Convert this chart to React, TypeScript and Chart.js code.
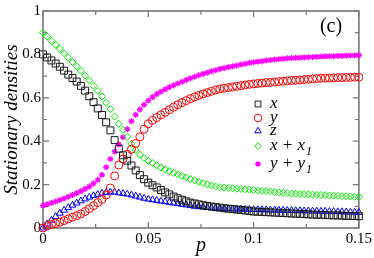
import React, { useEffect, useRef } from 'react';
import { Chart, registerables } from 'chart.js';

Chart.register(...registerables);

// sampling positions p
const P = [
  0, 0.002, 0.004, 0.006, 0.008, 0.01, 0.012, 0.014, 0.016, 0.018,
  0.02, 0.022, 0.024, 0.026, 0.028, 0.03, 0.032, 0.034, 0.036, 0.038,
  0.04, 0.042, 0.044, 0.046, 0.048, 0.05, 0.052, 0.054, 0.056, 0.058,
  0.06, 0.062, 0.064, 0.066, 0.068, 0.07, 0.072, 0.074, 0.076, 0.078,
  0.08, 0.082, 0.084, 0.086, 0.088, 0.09, 0.092, 0.094, 0.096, 0.098,
  0.1, 0.102, 0.104, 0.106, 0.108, 0.11, 0.112, 0.114, 0.116, 0.118,
  0.12, 0.122, 0.124, 0.126, 0.128, 0.13, 0.132, 0.134, 0.136, 0.138,
  0.14, 0.142, 0.144, 0.146, 0.148, 0.15,
];

const X_VALUES = [
  0.800, 0.786, 0.772, 0.758, 0.743, 0.725, 0.707, 0.691, 0.675, 0.655,
  0.633, 0.607, 0.580, 0.551, 0.521, 0.487, 0.450, 0.405, 0.365, 0.335,
  0.310, 0.288, 0.265, 0.244, 0.225, 0.209, 0.197, 0.187, 0.175, 0.164,
  0.155, 0.145, 0.137, 0.130, 0.123, 0.117, 0.113, 0.109, 0.105, 0.102,
  0.099, 0.096, 0.094, 0.091, 0.089, 0.087, 0.085, 0.083, 0.081, 0.078,
  0.076, 0.075, 0.074, 0.073, 0.072, 0.071, 0.070, 0.069, 0.068, 0.067,
  0.066, 0.065, 0.064, 0.063, 0.062, 0.061, 0.061, 0.060, 0.059, 0.058,
  0.058, 0.057, 0.056, 0.056, 0.055, 0.054,
];

const Y_VALUES = [
  0.000, 0.010, 0.016, 0.021, 0.027, 0.034, 0.042, 0.050, 0.057, 0.065,
  0.076, 0.089, 0.103, 0.117, 0.132, 0.152, 0.184, 0.240, 0.290, 0.318,
  0.340, 0.363, 0.390, 0.420, 0.455, 0.480, 0.496, 0.509, 0.521, 0.533,
  0.545, 0.557, 0.568, 0.578, 0.587, 0.596, 0.604, 0.611, 0.618, 0.624,
  0.630, 0.636, 0.641, 0.644, 0.647, 0.650, 0.653, 0.656, 0.659, 0.662,
  0.664, 0.666, 0.668, 0.670, 0.671, 0.673, 0.675, 0.676, 0.678, 0.680,
  0.681, 0.682, 0.684, 0.685, 0.687, 0.689, 0.690, 0.691, 0.691, 0.692,
  0.693, 0.693, 0.694, 0.694, 0.695, 0.695,
];

const Z_VALUES = [
  0.000, 0.018, 0.036, 0.053, 0.068, 0.082, 0.094, 0.105, 0.115, 0.125,
  0.134, 0.142, 0.149, 0.155, 0.160, 0.163, 0.166, 0.165, 0.162, 0.159,
  0.156, 0.152, 0.147, 0.142, 0.137, 0.133, 0.130, 0.127, 0.124, 0.121,
  0.118, 0.115, 0.112, 0.109, 0.106, 0.103, 0.100, 0.098, 0.096, 0.094,
  0.093, 0.092, 0.091, 0.090, 0.089, 0.088, 0.087, 0.087, 0.086, 0.086,
  0.085, 0.085, 0.084, 0.084, 0.083, 0.083, 0.082, 0.082, 0.081, 0.081,
  0.080, 0.080, 0.079, 0.079, 0.078, 0.078, 0.077, 0.077, 0.076, 0.076,
  0.075, 0.075, 0.074, 0.073, 0.073, 0.072,
];

const XX1_VALUES = [
  0.900, 0.882, 0.863, 0.844, 0.825, 0.805, 0.785, 0.765, 0.745, 0.724,
  0.702, 0.680, 0.656, 0.632, 0.606, 0.578, 0.548, 0.514, 0.480, 0.452,
  0.420, 0.388, 0.360, 0.337, 0.322, 0.310, 0.299, 0.289, 0.279, 0.270,
  0.262, 0.254, 0.247, 0.240, 0.233, 0.226, 0.219, 0.213, 0.207, 0.201,
  0.196, 0.191, 0.188, 0.186, 0.184, 0.183, 0.181, 0.180, 0.178, 0.177,
  0.175, 0.173, 0.171, 0.170, 0.168, 0.166, 0.164, 0.162, 0.160, 0.159,
  0.158, 0.157, 0.156, 0.155, 0.154, 0.153, 0.152, 0.151, 0.150, 0.149,
  0.148, 0.147, 0.146, 0.145, 0.144, 0.143,
];

const YY1_VALUES = [
  0.103, 0.109, 0.116, 0.122, 0.129, 0.136, 0.144, 0.152, 0.161, 0.170,
  0.180, 0.191, 0.205, 0.222, 0.245, 0.280, 0.318, 0.352, 0.385, 0.418,
  0.455, 0.492, 0.522, 0.546, 0.568, 0.587, 0.603, 0.617, 0.628, 0.639,
  0.649, 0.658, 0.666, 0.674, 0.682, 0.690, 0.697, 0.704, 0.710, 0.716,
  0.722, 0.727, 0.733, 0.737, 0.741, 0.745, 0.749, 0.753, 0.757, 0.761,
  0.764, 0.767, 0.769, 0.772, 0.774, 0.776, 0.778, 0.780, 0.782, 0.783,
  0.784, 0.785, 0.786, 0.787, 0.788, 0.789, 0.790, 0.791, 0.791, 0.792,
  0.793, 0.793, 0.794, 0.795, 0.795, 0.796,
];

const X_TICKS = [0, 0.05, 0.1, 0.15];
const X_TICK_LABELS = ['0', '0.05', '0.1', '0.15'];
const X_MINOR = [0.025, 0.075, 0.125];
const Y_TICKS = [0, 0.2, 0.4, 0.6, 0.8, 1];
const Y_TICK_LABELS = ['0', '0.2', '0.4', '0.6', '0.8', '1'];
const Y_MINOR = [0.1, 0.3, 0.5, 0.7, 0.9];

const SERIES_LABELS = ['x', 'y', 'z', 'x + x', 'y + y'];
const SERIES_SUBSCRIPTS = ['', '', '', '1', '1'];
const PANEL_LABEL = '(c)';
const X_TITLE = 'p';
const Y_TITLE = 'Stationary densities';

const SERIF = "'Liberation Serif', 'Times New Roman', serif";
const FRAME = '#777777';

type Style = { color: string; shape: string; radius: number; width: number };
const STYLES: Style[] = [
  { color: '#1a1a1a', shape: 'rect', radius: 4.9, width: 1 },
  { color: '#ff0000', shape: 'circle', radius: 4, width: 1 },
  { color: '#0000ff', shape: 'triangle', radius: 3.9, width: 1 },
  { color: '#00ee00', shape: 'rectRot', radius: 3.5, width: 1 },
  { color: '#ff00ff', shape: 'star', radius: 3.0, width: 1.3 },
];

const SERIES = [X_VALUES, Y_VALUES, Z_VALUES, XX1_VALUES, YY1_VALUES];

function drawShape(ctx: CanvasRenderingContext2D, shape: string, x: number, y: number, r: number) {
  ctx.beginPath();
  if (shape === 'rect') {
    const s = Math.SQRT1_2 * r;
    ctx.rect(x - s, y - s, 2 * s, 2 * s);
  } else if (shape === 'circle') {
    ctx.arc(x, y, r, 0, Math.PI * 2);
  } else if (shape === 'triangle') {
    ctx.moveTo(x, y - r);
    ctx.lineTo(x + r * 0.866, y + r * 0.5);
    ctx.lineTo(x - r * 0.866, y + r * 0.5);
    ctx.closePath();
  } else if (shape === 'rectRot') {
    ctx.moveTo(x, y - r);
    ctx.lineTo(x + r, y);
    ctx.lineTo(x, y + r);
    ctx.lineTo(x - r, y);
    ctx.closePath();
  } else {
    for (let k = 0; k < 4; k++) {
      const a = (k * Math.PI) / 4;
      ctx.moveTo(x + Math.cos(a) * r, y + Math.sin(a) * r);
      ctx.lineTo(x - Math.cos(a) * r, y - Math.sin(a) * r);
    }
  }
  ctx.stroke();
}

const framePlugin = {
  id: 'frameTicks',
  beforeDatasetsDraw(chart: any) {
    const { ctx, chartArea: a, scales } = chart;
    const xs = scales.x;
    const ys = scales.y;
    ctx.save();
    ctx.strokeStyle = FRAME;
    ctx.lineWidth = 1.6;
    ctx.strokeRect(a.left, a.top, a.right - a.left, a.bottom - a.top);
    ctx.lineWidth = 1.2;
    ctx.beginPath();
    const xt = (v: number, len: number) => {
      const px = xs.getPixelForValue(v);
      ctx.moveTo(px, a.bottom);
      ctx.lineTo(px, a.bottom - len);
      ctx.moveTo(px, a.top);
      ctx.lineTo(px, a.top + len);
    };
    const yt = (v: number, len: number) => {
      const py = ys.getPixelForValue(v);
      ctx.moveTo(a.left, py);
      ctx.lineTo(a.left + len, py);
      ctx.moveTo(a.right, py);
      ctx.lineTo(a.right - len, py);
    };
    X_TICKS.forEach((v) => xt(v, 6));
    X_MINOR.forEach((v) => xt(v, 4));
    Y_TICKS.forEach((v) => yt(v, 6));
    Y_MINOR.forEach((v) => yt(v, 4));
    ctx.stroke();
    ctx.restore();
  },
  afterDraw(chart: any) {
    const { ctx } = chart;
    ctx.save();
    ctx.fillStyle = '#000';
    ctx.font = `20px ${SERIF}`;
    ctx.textAlign = 'center';
    ctx.textBaseline = 'alphabetic';
    ctx.fillText(PANEL_LABEL, 331, 32);
    const rowsY = [104, 118, 131, 146, 164];
    SERIES_LABELS.forEach((label, i) => {
      const st = STYLES[i];
      ctx.strokeStyle = st.color;
      ctx.lineWidth = st.width;
      drawShape(ctx, st.shape, 258, rowsY[i], st.shape === 'rect' ? 4.2 : st.radius * 0.95);
      ctx.fillStyle = '#000';
      ctx.textAlign = 'left';
      ctx.font = `italic 17px ${SERIF}`;
      ctx.fillText(label, 270, rowsY[i] + 4);
      if (SERIES_SUBSCRIPTS[i]) {
        const w = ctx.measureText(label).width;
        ctx.font = `italic 12px ${SERIF}`;
        ctx.fillText(SERIES_SUBSCRIPTS[i], 270 + w + 1, rowsY[i] + 9);
      }
    });
    ctx.restore();
  },
};

export default function App() {
  const ref = useRef<HTMLCanvasElement | null>(null);
  useEffect(() => {
    if (!ref.current) return;
    const datasets = SERIES.map((vals, i) => ({
      label: SERIES_LABELS[i],
      data: P.map((p, j) => ({ x: p, y: vals[j] })),
      showLine: false,
      pointStyle: STYLES[i].shape,
      pointRadius: STYLES[i].radius,
      pointBorderWidth: STYLES[i].width,
      pointBorderColor: STYLES[i].color,
      pointBackgroundColor: 'rgba(0,0,0,0)',
      borderColor: STYLES[i].color,
      backgroundColor: 'rgba(0,0,0,0)',
      clip: false as any,
    }));
    const chart = new Chart(ref.current, {
      type: 'scatter',
      data: { datasets },
      options: {
        animation: false,
        responsive: false,
        events: [],
        layout: { padding: { left: 0, right: 14, top: 5, bottom: 0 } },
        plugins: { legend: { display: false }, tooltip: { enabled: false } },
        scales: {
          x: {
            type: 'linear',
            min: 0,
            max: 0.15,
            grid: { display: false, drawTicks: false },
            border: { display: false },
            afterBuildTicks: (s: any) => {
              s.ticks = X_TICKS.map((v) => ({ value: v }));
            },
            afterFit: (s: any) => {
              s.height = 30;
            },
            ticks: {
              padding: 2,
              color: '#000',
              font: { family: SERIF, size: 15 },
              maxRotation: 0,
              callback: (v: any) => {
                const i = X_TICKS.findIndex((t) => Math.abs(t - Number(v)) < 1e-9);
                return i >= 0 ? X_TICK_LABELS[i] : '';
              },
            },
            title: {
              display: true,
              text: X_TITLE,
              color: '#000',
              font: { family: SERIF, size: 20, style: 'italic' },
              padding: { top: 0, bottom: 0 },
            },
          },
          y: {
            type: 'linear',
            min: 0,
            max: 1,
            grid: { display: false, drawTicks: false },
            border: { display: false },
            afterBuildTicks: (s: any) => {
              s.ticks = Y_TICKS.map((v) => ({ value: v }));
            },
            afterFit: (s: any) => {
              s.width = 43;
            },
            ticks: {
              padding: 2,
              color: '#000',
              font: { family: SERIF, size: 15 },
              callback: (v: any) => {
                const i = Y_TICKS.findIndex((t) => Math.abs(t - Number(v)) < 1e-9);
                return i >= 0 ? Y_TICK_LABELS[i] : '';
              },
            },
            title: {
              display: true,
              text: Y_TITLE,
              color: '#000',
              font: { family: SERIF, size: 19, style: 'italic' },
              padding: { top: 1, bottom: 0 },
            },
          },
        },
      },
      plugins: [framePlugin],
    });
    return () => chart.destroy();
  }, []);
  return (
    <div style={{ position: 'absolute', left: 0, top: 0, width: 374, height: 258, background: '#fff' }}>
      <canvas ref={ref} width={374} height={258} style={{ display: 'block' }} />
    </div>
  );
}
